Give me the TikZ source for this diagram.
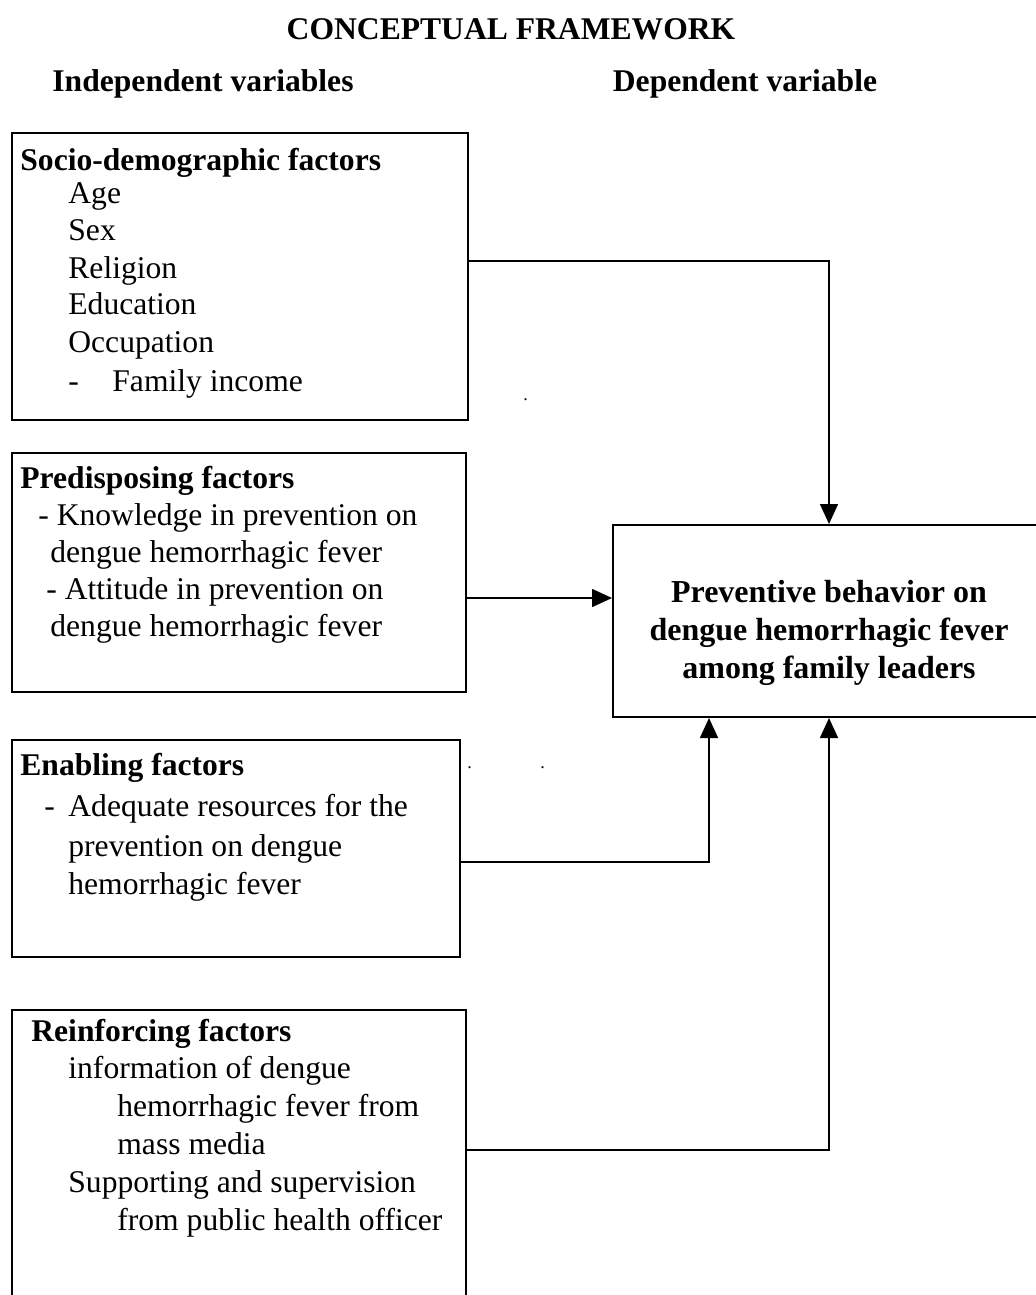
\documentclass[tikz,border=0pt]{standalone}
\usepackage{fontspec}
\setmainfont{Liberation Serif}
\usetikzlibrary{arrows.meta,fit}
\begin{document}
\begin{tikzpicture}[x=0.5pt,y=-0.5pt,
  txt/.style={anchor=base west,inner sep=0pt,font=\fontsize{15.8}{19}\selectfont},
  bold/.style={txt,font=\fontsize{15.8}{19}\selectfont\bfseries},
  boxx/.style={draw,line width=1pt,inner sep=0pt,rectangle},
  conn/.style={line width=0.8pt},
  arr/.style={conn,-{Triangle[width=9pt,length=10pt]}}]
\useasboundingbox (0,0) rectangle (1036,1295);
\clip (0,0) rectangle (1036,1295);
% titles
\node[bold,anchor=base] (title) at (511,40) {CONCEPTUAL FRAMEWORK};
\node[bold,anchor=base] (indep) at (203,91) {Independent variables};
\node[bold,anchor=base] (dep) at (745,91) {Dependent variable};
% boxes
\node[boxx,fit={(12,133) (468,420)}] (b1) {};
\node[boxx,fit={(12,453) (466,692)}] (b2) {};
\node[boxx,fit={(12,740) (460,957)}] (b3) {};
\node[boxx,fit={(12,1010) (466,1320)}] (b4) {};
\node[boxx,fit={(613,525) (1045,717)}] (tgt) {};
% box 1 text
\node[bold] (t1h) at (20,170) {Socio-demographic factors};
\node[txt] (t1a) at (68,203) {Age};
\node[txt] (t1b) at (68,240) {Sex};
\node[txt] (t1c) at (68,278) {Religion};
\node[txt] (t1d) at (68,314) {Education};
\node[txt] (t1e) at (68,352) {Occupation};
\node[txt] (t1f) at (68,391) {-};
\node[txt] (t1g) at (112,391) {Family income};
% box 2 text
\node[bold] (t2h) at (20,488) {Predisposing factors};
\node[txt] (t2a) at (38,525) {- Knowledge in prevention on};
\node[txt] (t2b) at (50,562) {dengue hemorrhagic fever};
\node[txt] (t2c) at (46,599) {- Attitude in prevention on};
\node[txt] (t2d) at (50,636) {dengue hemorrhagic fever};
% box 3 text
\node[bold] (t3h) at (20,775) {Enabling factors};
\node[txt] (t3a) at (44,816) {-};
\node[txt] (t3b) at (68,816) {Adequate resources for the};
\node[txt] (t3c) at (68,856) {prevention on dengue};
\node[txt] (t3d) at (68,894) {hemorrhagic fever};
% box 4 text
\node[bold] (t4h) at (31,1041) {Reinforcing factors};
\node[txt] (t4a) at (68,1078) {information of dengue};
\node[txt] (t4b) at (117,1116) {hemorrhagic fever from};
\node[txt] (t4c) at (117,1154) {mass media};
\node[txt] (t4d) at (68,1192) {Supporting and supervision};
\node[txt] (t4e) at (117,1230) {from public health officer};
% target text
\node[anchor=base,inner sep=0pt,font=\fontsize{16}{19}\selectfont\bfseries] (tt1) at (829,602) {Preventive behavior on};
\node[anchor=base,inner sep=0pt,font=\fontsize{16}{19}\selectfont\bfseries] (tt2) at (829,640) {dengue hemorrhagic fever};
\node[anchor=base,inner sep=0pt,font=\fontsize{16}{19}\selectfont\bfseries] (tt3) at (829,678) {among family leaders};
% stray dots
\node[txt,font=\fontsize{9}{10}\selectfont] (d1) at (523,400) {.};
\node[txt,font=\fontsize{9}{10}\selectfont] (d2) at (467,768) {.};
\node[txt,font=\fontsize{9}{10}\selectfont] (d3) at (540,768) {.};
% connectors
\draw[arr] (b1.east |- 0,261) -| (tgt.north);
\draw[arr] (b2.east |- 0,598) -- (tgt.west |- 0,598);
\draw[arr] (b3.east |- 0,862) -| (709,0 |- tgt.south);
\draw[arr] (b4.east |- 0,1150) -| (tgt.south);
\end{tikzpicture}
\end{document}
